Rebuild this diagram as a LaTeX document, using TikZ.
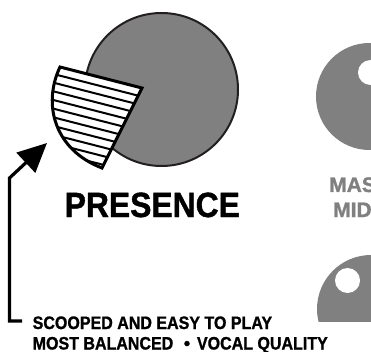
\documentclass[tikz,border=0pt]{standalone}
\usepackage{fontspec}
\setmainfont{Liberation Sans}
\newfontfamily\heavy{Liberation Sans Bold}[FakeBold=1.2]
\usetikzlibrary{arrows.meta}
\definecolor{dgray}{RGB}{128,128,128}
\definecolor{outl}{RGB}{35,31,32}
\tikzset{
  hatch/.style={line width=2pt, black},
  wedgeline/.style={line width=3pt, black, line join=miter},
  pointer/.style={line width=3.2pt, black, line join=miter, -{Triangle[length=29pt,width=27pt]}},
  lbl/.style={anchor=base west, inner sep=0pt, font=\fontsize{18}{18}\selectfont\heavy},
  graylbl/.style={anchor=base west, inner sep=0pt, text=dgray, font=\fontsize{21}{21}\selectfont\heavy}
}
\begin{document}
\begin{tikzpicture}[x=1pt,y=-1pt]
\clip (0,0) rectangle (371,352);
\fill[white] (0,0) rectangle (371,352);

% big knob
\node[circle, draw=outl, fill=dgray, line width=2pt, minimum size=153pt, inner sep=0pt] (knob) at (161.5,89.5) {};

% wedge
\coordinate (wA) at (60,67);
\coordinate (wB) at (142,88);
\coordinate (wC) at (102,168);
\fill[white] (wA) -- (wB) -- (wC) .. controls (55,150) and (42,105) .. (wA) -- cycle;
\begin{scope}
  \clip (wA) -- (wB) -- (wC) .. controls (55,150) and (42,105) .. (wA) -- cycle;
  \foreach \k in {1,...,10} {
    \pgfmathsetmacro\sx{60-2.083*\k-100}
    \pgfmathsetmacro\sy{67+8.14*\k-25.6}
    \draw[hatch] (\sx,\sy) -- ++(200,51.2);
  }
\end{scope}
\draw[wedgeline] (wA) -- (wB) -- (wC) .. controls (55,150) and (42,105) .. (wA) -- cycle;

% partial knobs on right
\fill[dgray] (369.5,96.5) circle[radius=53.5pt];
\fill[white] (370.5,72.5) circle[radius=12.5pt];
\begin{scope}
  \clip (300,240) rectangle (371,321);
  \fill[dgray] (371,309) circle[radius=54pt];
\end{scope}
\fill[white] (347.5,280.5) circle[radius=12.5pt];

% texts
\node[anchor=base west, inner sep=0pt, font=\fontsize{35}{35}\selectfont\heavy] (presence) at (64.5,217) {\scalebox{0.91}[1]{PRESENCE}};
\node[graylbl] (mas) at (329,192) {MAS};
\node[graylbl] (mid) at (333,217) {MID};
\node[lbl] (l1) at (32.5,329) {\scalebox{0.89}[1]{SCOOPED AND EASY TO PLAY}};
\node[lbl] (l2a) at (32.5,349.5) {\scalebox{0.89}[1]{MOST BALANCED}};
\node[lbl, anchor=base] (bul) at (187,349.5) {•};
\node[lbl, anchor=base east] (l2b) at (328,349.5) {\scalebox{0.89}[1]{VOCAL QUALITY}};

% pointer
\coordinate (aEnd) at (22,321);
\coordinate (aFoot) at (9.5,321);
\coordinate (aBend) at (9.5,178);
\coordinate (aTip) at (47,143);
\draw[pointer] (aEnd) -- (aFoot) -- (aBend) -- (aTip);
\end{tikzpicture}
\end{document}
